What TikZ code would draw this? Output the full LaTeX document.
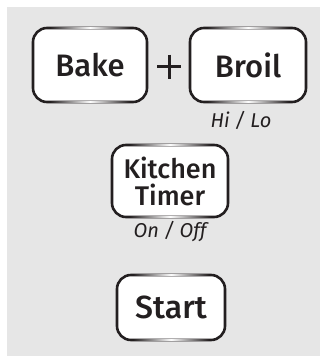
\documentclass[tikz,border=0pt]{standalone}
\usepackage{fontspec}
\setmainfont{Fira Sans}[UprightFont=* Medium, ItalicFont=* Italic]
\usetikzlibrary{calc,fadings}

\definecolor{panelgray}{HTML}{E6E6E6}
\definecolor{inkblack}{HTML}{231F20}

\tikzfading[name=midfade, left color=transparent!100, right color=transparent!100, middle color=transparent!0]

\tikzstyle{key}=[rectangle,rounded corners=14pt,draw=inkblack,fill=white,line width=2.6pt,inner sep=0pt,outer sep=0pt,text=inkblack,align=center]
\tikzstyle{hint}=[text=inkblack,font=\itshape\fontsize{20}{20}\selectfont]

\newcommand{\keygap}[1]{%
  \fill[white,path fading=midfade] ($(#1.north west)!0.15!(#1.north east)+(0,-1.4)$) rectangle ($(#1.north west)!0.85!(#1.north east)+(0,1.4)$);
  \fill[white,path fading=midfade] ($(#1.south west)!0.15!(#1.south east)+(0,-1.4)$) rectangle ($(#1.south west)!0.85!(#1.south east)+(0,1.4)$);
}

\begin{document}
\begin{tikzpicture}[x=1pt,y=-1pt]
			\useasboundingbox (0,0) rectangle (320,356);
			\fill[panelgray] (7,7) rectangle (320,356);
			% the keys
			\node[key,minimum width=114pt,minimum height=74pt,font=\fontsize{31}{31}\selectfont] (bake) at (90,65) {Bake};
			\node[key,minimum width=116pt,minimum height=74pt,font=\fontsize{31}{31}\selectfont] (broil) at (248,65) {Broil};
			\node[key,minimum width=116pt,minimum height=72pt,font=\fontsize{27}{27}\selectfont] (timer) at (170,181) {Kitchen\\Timer};
			\node[key,minimum width=108pt,minimum height=65pt,font=\fontsize{32}{32}\selectfont] (start) at (171,307.5) {Start};
			% soft gaps in the key borders
			\foreach \k in {bake, broil, timer, start}
			  \keygap{\k}
			% plus sign and small labels
			\coordinate (plus) at (169,66.5);
			\draw[inkblack,line width=3pt] ($(plus)+(-12,0)$) -- ($(plus)+(12,0)$);
			\draw[inkblack,line width=3pt] ($(plus)+(0,-12)$) -- ($(plus)+(0,12)$);
			\node[hint] (hilo) at (241,120) {Hi / Lo};
			\node[hint] (onoff) at (170,232) {On / Off};
		\end{tikzpicture}
\end{document}
